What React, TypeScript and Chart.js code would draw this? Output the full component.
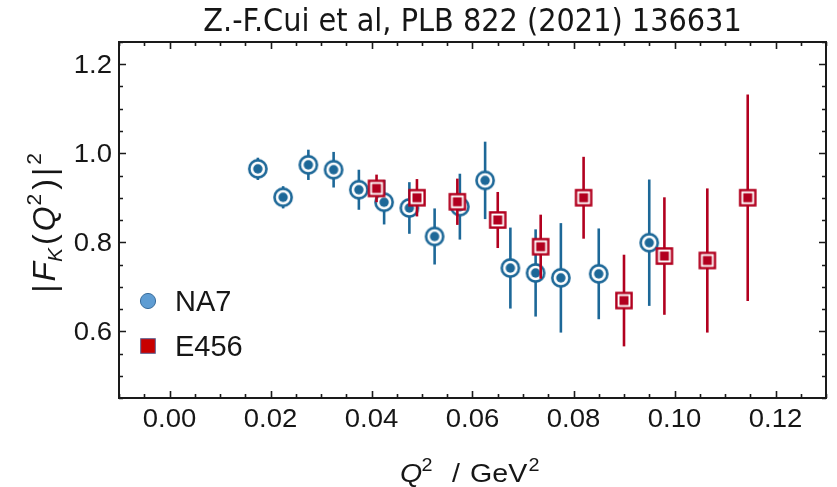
import React, { useEffect, useRef } from "react";
import { Chart, registerables } from "chart.js";

Chart.register(...registerables);

// ---- data ----
const na7Q2 = [0.0175, 0.0225, 0.0275, 0.0325, 0.0375, 0.0425, 0.0475, 0.0525, 0.0575, 0.0625, 0.0675, 0.0725, 0.0775, 0.085, 0.095];
const na7F = [0.965, 0.901, 0.974, 0.963, 0.918, 0.89, 0.877, 0.813, 0.88, 0.939, 0.742, 0.731, 0.72, 0.729, 0.799];
const na7Err = [0.025, 0.025, 0.034, 0.04, 0.045, 0.05, 0.058, 0.063, 0.074, 0.087, 0.091, 0.098, 0.123, 0.102, 0.142];

const e456Q2 = [0.041, 0.049, 0.057, 0.065, 0.0735, 0.082, 0.09, 0.098, 0.1065, 0.1145];
const e456F = [0.921, 0.9, 0.891, 0.85, 0.79, 0.9, 0.669, 0.769, 0.759, 0.9];
const e456Err = [0.031, 0.042, 0.052, 0.063, 0.072, 0.092, 0.103, 0.132, 0.162, 0.232];

const xTickValues = [0, 0.02, 0.04, 0.06, 0.08, 0.1, 0.12];
const yTickValues = [0.6, 0.8, 1.0, 1.2];
const seriesNames = ["NA7", "E456"];
const titleText = "Z.-F.Cui et al, PLB 822 (2021) 136631";

const X_MIN = -0.01;
const X_MAX = 0.13;
const Y_MIN = 0.45;
const Y_MAX = 1.25;

const BLUE = "#1d6898";
const RED = "#b2001f";
const FRAME = "#1a1a1a";
const TEXT = "#161616";
const FONT = "'Liberation Sans', Arial, Helvetica, sans-serif";
const STRETCH = 1.1;

function makeCircleMarker(): HTMLCanvasElement {
  const c = document.createElement("canvas");
  c.width = 24;
  c.height = 24;
  const ctx = c.getContext("2d")!;
  ctx.beginPath();
  ctx.arc(12, 12, 8.6, 0, Math.PI * 2);
  ctx.fillStyle = "#ffffff";
  ctx.fill();
  ctx.lineWidth = 2.6;
  ctx.strokeStyle = BLUE;
  ctx.stroke();
  ctx.beginPath();
  ctx.arc(12, 12, 4.7, 0, Math.PI * 2);
  ctx.fillStyle = BLUE;
  ctx.fill();
  return c;
}

function makeSquareMarker(): HTMLCanvasElement {
  const c = document.createElement("canvas");
  c.width = 22;
  c.height = 22;
  const ctx = c.getContext("2d")!;
  ctx.fillStyle = "#ffffff";
  ctx.fillRect(3.4, 3.4, 15.2, 15.2);
  ctx.lineWidth = 2.4;
  ctx.strokeStyle = RED;
  ctx.strokeRect(3.4, 3.4, 15.2, 15.2);
  ctx.fillStyle = RED;
  ctx.fillRect(6.5, 6.5, 9, 9);
  return c;
}

function stretchedText(ctx: any, text: string, x: number, y: number, font: string, align: string) {
  ctx.save();
  ctx.font = font;
  ctx.textAlign = align;
  ctx.textBaseline = "alphabetic";
  ctx.translate(x, y);
  ctx.scale(STRETCH, 1);
  ctx.fillText(text, 0, 0);
  ctx.restore();
}

const errorBarPlugin = {
  id: "errorBars",
  beforeDatasetDraw(chart: any, args: any) {
    const ds = chart.data.datasets[args.index];
    const errs: number[] = ds.errors || [];
    const xs = chart.scales.x;
    const ys = chart.scales.y;
    const ctx = chart.ctx;
    ctx.save();
    ctx.strokeStyle = ds.barColor;
    ctx.lineWidth = 2.6;
    ctx.lineCap = "butt";
    ds.data.forEach((p: any, i: number) => {
      const x = xs.getPixelForValue(p.x);
      const y1 = ys.getPixelForValue(p.y + errs[i]);
      const y2 = ys.getPixelForValue(p.y - errs[i]);
      ctx.beginPath();
      ctx.moveTo(x, y1);
      ctx.lineTo(x, y2);
      ctx.stroke();
    });
    ctx.restore();
  },
};

const framePlugin = {
  id: "frameTicks",
  afterDraw(chart: any) {
    const { ctx, chartArea } = chart;
    const { left, right, top, bottom } = chartArea;
    const xs = chart.scales.x;
    const ys = chart.scales.y;
    ctx.save();
    ctx.strokeStyle = FRAME;
    ctx.lineWidth = 1.6;
    // inward ticks
    const step = 0.005;
    for (let k = Math.ceil(X_MIN / step); k * step <= X_MAX + 1e-9; k++) {
      const v = k * step;
      const major = Math.abs(Math.round(v / 0.02) * 0.02 - v) < 1e-9;
      const len = major ? 7 : 4;
      const px = Math.round(xs.getPixelForValue(v)) + 0.5;
      ctx.beginPath();
      ctx.moveTo(px, bottom);
      ctx.lineTo(px, bottom - len);
      ctx.moveTo(px, top);
      ctx.lineTo(px, top + len);
      ctx.stroke();
    }
    const ystep = 0.05;
    for (let k = Math.ceil(Y_MIN / ystep - 1e-9); k * ystep <= Y_MAX + 1e-9; k++) {
      const v = k * ystep;
      const major = Math.abs(Math.round(v / 0.2) * 0.2 - v) < 1e-9;
      const len = major ? 7 : 4;
      const py = Math.round(ys.getPixelForValue(v)) + 0.5;
      ctx.beginPath();
      ctx.moveTo(left, py);
      ctx.lineTo(left + len, py);
      ctx.moveTo(right, py);
      ctx.lineTo(right - len, py);
      ctx.stroke();
    }
    // frame
    ctx.lineWidth = 2;
    ctx.strokeRect(left, top, right - left, bottom - top);

    ctx.fillStyle = TEXT;
    // tick labels (from the scales' own ticks)
    xs.ticks.forEach((t: any) => {
      stretchedText(ctx, Number(t.value).toFixed(2), xs.getPixelForValue(t.value), bottom + 29, "25px " + FONT, "center");
    });
    ys.ticks.forEach((t: any) => {
      stretchedText(ctx, Number(t.value).toFixed(1), left - 7, ys.getPixelForValue(t.value) + 8.5, "25px " + FONT, "right");
    });

    // title
    ctx.font = "32px 'Liberation Sans Narrow', 'DejaVu Sans Condensed', " + FONT;
    ctx.textAlign = "center";
    ctx.textBaseline = "alphabetic";
    ctx.fillText(titleText, (left + right) / 2, 31);

    // x-axis title: Q^2 / GeV^2
    const xcx = (left + right) / 2;
    const xBase = 482;
    stretchedText(ctx, "Q", xcx - 72.5, xBase, "italic 26px " + FONT, "left");
    stretchedText(ctx, "2", xcx - 51, xBase - 11, "18px " + FONT, "left");
    stretchedText(ctx, "/", xcx - 20.5, xBase, "26px " + FONT, "left");
    stretchedText(ctx, "GeV", xcx - 2.5, xBase, "26px " + FONT, "left");
    stretchedText(ctx, "2", xcx + 56, xBase - 11, "18px " + FONT, "left");

    // y-axis title: |F_K(Q^2)|^2 rotated
    const yParts: [string, string, number, number][] = [
      ["|", "32px " + FONT, 0, 3],
      ["F", "italic 32px " + FONT, 0, 0],
      ["K", "italic 21px " + FONT, 7, 3],
      ["(", "32px " + FONT, 0, 3],
      ["Q", "italic 32px " + FONT, 0, 1],
      ["2", "21px " + FONT, -14, 4],
      [")", "32px " + FONT, 0, 3],
      ["|", "32px " + FONT, 0, 3],
      ["2", "21px " + FONT, -14, 0],
    ];
    let ytotal = 0;
    yParts.forEach(([t, f, , gap]) => {
      ctx.font = f;
      ytotal += ctx.measureText(t).width + gap;
    });
    ctx.save();
    ctx.textAlign = "left";
    ctx.translate(55, (top + bottom) / 2 + 3);
    ctx.rotate(-Math.PI / 2);
    let yx = -ytotal / 2;
    yParts.forEach(([t, f, dy, gap]) => {
      ctx.font = f;
      ctx.fillText(t, yx, dy);
      yx += ctx.measureText(t).width + gap;
    });
    ctx.restore();

    // legend
    const lx = left + 29;
    const ly1 = top + 259;
    const ly2 = top + 304;
    ctx.beginPath();
    ctx.arc(lx, ly1, 7.6, 0, Math.PI * 2);
    ctx.fillStyle = "#5f9dd3";
    ctx.fill();
    ctx.lineWidth = 1;
    ctx.strokeStyle = "#3a6d9c";
    ctx.stroke();
    ctx.fillStyle = "#c80000";
    ctx.fillRect(lx - 7.3, ly2 - 7.3, 14.6, 14.6);
    ctx.strokeStyle = "#5b5f8f";
    ctx.strokeRect(lx - 7.3, ly2 - 7.3, 14.6, 14.6);
    ctx.fillStyle = TEXT;
    ctx.font = "29px " + FONT;
    ctx.textAlign = "left";
    ctx.fillText(seriesNames[0], lx + 27, ly1 + 10);
    ctx.fillText(seriesNames[1], lx + 27, ly2 + 10);
    ctx.restore();
  },
};

export default function App() {
  const canvasRef = useRef<HTMLCanvasElement | null>(null);

  useEffect(() => {
    const canvas = canvasRef.current;
    if (!canvas) return;
    const circle = makeCircleMarker();
    const square = makeSquareMarker();
    const chart = new Chart(canvas, {
      type: "scatter",
      data: {
        datasets: [
          {
            label: seriesNames[0],
            data: na7Q2.map((q, i) => ({ x: q, y: na7F[i] })),
            errors: na7Err,
            barColor: BLUE,
            pointStyle: circle,
            pointRadius: 10,
            order: 2,
          } as any,
          {
            label: seriesNames[1],
            data: e456Q2.map((q, i) => ({ x: q, y: e456F[i] })),
            errors: e456Err,
            barColor: RED,
            pointStyle: square,
            pointRadius: 10,
            order: 1,
          } as any,
        ],
      },
      options: {
        responsive: false,
        animation: false,
        events: [],
        layout: { padding: { top: 42, right: 5, left: 0, bottom: 0 } },
        plugins: {
          legend: { display: false },
          title: { display: false },
          tooltip: { enabled: false },
        },
        scales: {
          x: {
            type: "linear",
            min: X_MIN,
            max: X_MAX,
            grid: { display: false, drawTicks: false },
            border: { display: false },
            afterBuildTicks: (axis: any) => {
              axis.ticks = xTickValues.map((v) => ({ value: v }));
            },
            afterFit: (axis: any) => {
              axis.height = 89;
              axis.paddingLeft = 0;
              axis.paddingRight = 0;
              axis.paddingTop = 0;
              axis.paddingBottom = 0;
            },
            ticks: { display: false },
          },
          y: {
            type: "linear",
            min: Y_MIN,
            max: Y_MAX,
            grid: { display: false, drawTicks: false },
            border: { display: false },
            afterBuildTicks: (axis: any) => {
              axis.ticks = yTickValues.map((v) => ({ value: v }));
            },
            afterFit: (axis: any) => {
              axis.width = 119;
              axis.paddingLeft = 0;
              axis.paddingRight = 0;
              axis.paddingTop = 0;
              axis.paddingBottom = 0;
            },
            ticks: { display: false },
          },
        },
      },
      plugins: [errorBarPlugin, framePlugin],
    });
    return () => chart.destroy();
  }, []);

  return (
    <div style={{ position: "fixed", left: 0, top: 0, width: 837, height: 487, background: "#fff" }}>
      <canvas ref={canvasRef} width={837} height={487} style={{ display: "block" }} />
    </div>
  );
}
